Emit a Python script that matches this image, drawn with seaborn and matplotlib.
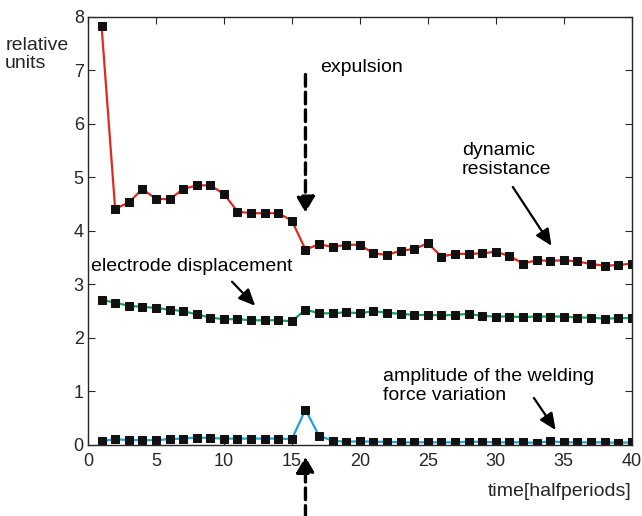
import numpy as np
import pandas as pd
import seaborn as sns
import matplotlib.pyplot as plt

# time axis in halfperiods
time = list(range(1, 41))

dynamic_resistance = [7.83, 4.41, 4.53, 4.78, 4.60, 4.59, 4.78, 4.85, 4.85, 4.69,
                      4.36, 4.33, 4.33, 4.33, 4.19, 3.65, 3.75, 3.70, 3.74, 3.74,
                      3.58, 3.55, 3.63, 3.66, 3.77, 3.52, 3.57, 3.57, 3.58, 3.61,
                      3.53, 3.39, 3.45, 3.44, 3.45, 3.43, 3.38, 3.35, 3.36, 3.39]

electrode_displacement = [2.71, 2.66, 2.60, 2.58, 2.56, 2.53, 2.50, 2.44, 2.38, 2.35,
                          2.35, 2.33, 2.33, 2.33, 2.31, 2.53, 2.46, 2.46, 2.48, 2.46,
                          2.50, 2.47, 2.45, 2.43, 2.43, 2.42, 2.43, 2.45, 2.41, 2.40,
                          2.40, 2.39, 2.40, 2.40, 2.40, 2.38, 2.38, 2.36, 2.37, 2.37]

force_amplitude = [0.07, 0.11, 0.09, 0.09, 0.09, 0.11, 0.12, 0.14, 0.13, 0.12,
                   0.12, 0.12, 0.12, 0.12, 0.11, 0.66, 0.17, 0.08, 0.06, 0.07,
                   0.06, 0.06, 0.05, 0.05, 0.05, 0.05, 0.05, 0.06, 0.06, 0.05,
                   0.05, 0.05, 0.04, 0.07, 0.05, 0.05, 0.05, 0.05, 0.04, 0.05]

series_colors = ['#e02a1e', '#13a35a', '#1ea3d8']

df = pd.DataFrame({'time': time,
                   'dynamic resistance': dynamic_resistance,
                   'electrode displacement': electrode_displacement,
                   'force amplitude': force_amplitude})

sns.set_style('ticks')
plt.rcParams['font.family'] = ['Liberation Sans', 'DejaVu Sans']
plt.rcParams['xtick.direction'] = 'in'
plt.rcParams['ytick.direction'] = 'in'

fig = plt.figure(figsize=(6.42, 5.16), dpi=100)
ax = fig.add_axes([0.137, 0.1376, 0.847, 0.830])

for col, c in zip(['dynamic resistance', 'electrode displacement', 'force amplitude'], series_colors):
    sns.lineplot(data=df, x='time', y=col, ax=ax, color=c, lw=1.6,
                 marker='s', markersize=6, markerfacecolor='#111111',
                 markeredgecolor='#111111')

ax.set_xlim(0, 40)
ax.set_ylim(0, 8)
ax.set_xticks(range(0, 41, 5))
ax.set_yticks(range(0, 9))
ax.tick_params(axis='both', labelsize=13, top=True, right=True, length=5, width=0.8)
ax.tick_params(axis='x', pad=6)
ax.tick_params(axis='y', pad=3)
for s in ax.spines.values():
    s.set_linewidth(1.0)
    s.set_visible(True)

ax.set_ylabel('')
ax.set_xlabel('time[halfperiods]', fontsize=14, loc='right', labelpad=9)

fig.text(0.008, 0.895, 'relative\nunits', fontsize=14, va='center', ha='left', linespacing=1.1)

txt = dict(fontsize=14, color='black')
ax.text(17.1, 7.05, 'expulsion', ha='left', va='center', **txt)
ax.text(27.5, 5.32, 'dynamic\nresistance', ha='left', va='center', linespacing=1.15, **txt)
ax.text(0.25, 3.33, 'electrode displacement', ha='left', va='center', **txt)
ax.text(21.7, 1.1, 'amplitude of the welding\nforce variation', ha='left', va='center',
        linespacing=1.15, **txt)

solid = dict(arrowstyle='-|>,head_length=1.0,head_width=0.45', color='black', lw=1.6,
             mutation_scale=10, shrinkA=0, shrinkB=0)
ax.annotate('', xy=(34.1, 3.72), xytext=(31.25, 4.82), arrowprops=solid)
ax.annotate('', xy=(12.3, 2.60), xytext=(10.6, 3.05), arrowprops=solid)
ax.annotate('', xy=(34.4, 0.28), xytext=(32.8, 0.88), arrowprops=solid)

dashed = dict(arrowstyle='-|>,head_length=0.95,head_width=0.55', color='black', lw=2.4,
              linestyle=(0, (3.5, 1.8)), mutation_scale=10, shrinkA=0, shrinkB=0)
ax.annotate('', xy=(16, 4.34), xytext=(16, 6.92), arrowprops=dashed)
ax.annotate('', xy=(16, -0.22), xytext=(16, -1.35), arrowprops=dashed,
            annotation_clip=False)

fig.savefig('out.png', dpi=100)
